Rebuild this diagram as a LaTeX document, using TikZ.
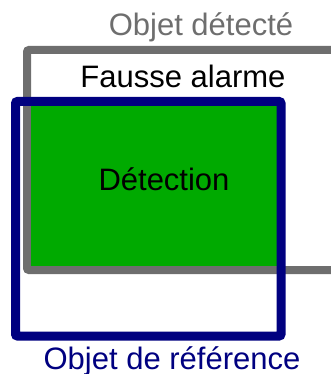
\documentclass[tikz,border=0pt]{standalone}
\usepackage{fontspec}
\setmainfont{Liberation Sans}
\definecolor{detgray}{HTML}{6E6E6E}
\definecolor{refblue}{HTML}{000080}
\definecolor{hitgreen}{HTML}{00AA00}
\begin{document}
\begin{tikzpicture}[
    x=1pt, y=-1pt,
    every node/.style={font=\fontsize{31}{36}\selectfont, inner sep=0pt},
    detbox/.style={draw=detgray, line width=8pt, rounded corners=2pt},
    refbox/.style={draw=refblue, line width=9pt, rounded corners=2pt},
  ]
  \useasboundingbox (0,0) rectangle (330,374);

  % detected object, open on the right
  \draw[detbox] (331,50) -- (27,50) -- (27,270) -- (331,270);
  % overlap
  \fill[hitgreen] (31,106) rectangle (277,266);
  % reference object
  \draw[refbox] (15.5,101.5) rectangle (281,336);

  \node[anchor=base, text=detgray] (objdet) at (201,36) {Objet détecté};
  \node[anchor=base] (fausse) at (183,88) {Fausse alarme};
  \node[anchor=base] (detect) at (164,190) {Détection};
  \node[anchor=base, text=refblue] (objref) at (172,369) {Objet de référence};
\end{tikzpicture}
\end{document}
